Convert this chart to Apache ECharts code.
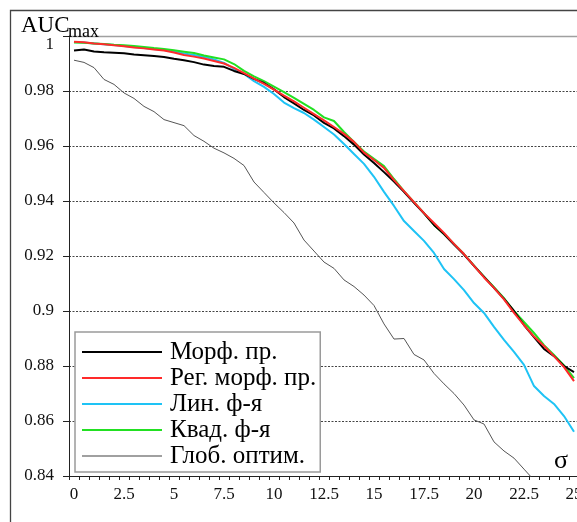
<!DOCTYPE html>
<html>
<head>
<meta charset="utf-8">
<script src="https://cdn.jsdelivr.net/npm/echarts@6/dist/echarts.min.js"></script>
<style>
  html, body { margin: 0; padding: 0; background: #fff; }
  #chart { width: 577px; height: 522px; }
</style>
</head>
<body>
<div id="chart"></div>
<script>
// σ values along the horizontal axis (category axis, step 0.5)
const sigma = ['0','0.5','1','1.5','2','2.5','3','3.5','4','4.5',
  '5','5.5','6','6.5','7','7.5','8','8.5','9','9.5',
  '10','10.5','11','11.5','12','12.5','13','13.5','14','14.5',
  '15','15.5','16','16.5','17','17.5','18','18.5','19','19.5',
  '20','20.5','21','21.5','22','22.5','23','23.5','24','24.5','25'];

// Y axis range and step for AUC_max
const yMin = 0.84;
const yMax = 1;
const yStep = 0.02;

const seriesNames = ['Морф. пр.', 'Рег. морф. пр.', 'Лин. ф-я', 'Квад. ф-я', 'Глоб. оптим.'];

const morph = [0.9947,0.9951,0.9944,0.9941,0.9939,0.9937,0.9933,0.9930,0.9927,0.9924,
  0.9917,0.9912,0.9905,0.9896,0.9891,0.9888,0.9873,0.9862,0.9844,0.9829,
  0.9806,0.9778,0.9755,0.9731,0.9711,0.9684,0.9664,0.9636,0.9605,0.9569,
  0.9538,0.9505,0.9471,0.9433,0.9393,0.9355,0.9313,0.9280,0.9242,0.9205,
  0.9164,0.9124,0.9084,0.9044,0.9000,0.8949,0.8905,0.8862,0.8836,0.8800,0.8778];

const regMorph = [0.9979,0.9977,0.9973,0.9970,0.9966,0.9963,0.9958,0.9955,0.9951,0.9947,
  0.9940,0.9931,0.9925,0.9918,0.9909,0.9900,0.9884,0.9865,0.9845,0.9826,
  0.9805,0.9783,0.9762,0.9739,0.9716,0.9693,0.9669,0.9644,0.9615,0.9576,
  0.9549,0.9520,0.9476,0.9436,0.9396,0.9356,0.9320,0.9284,0.9244,0.9207,
  0.9164,0.9122,0.9084,0.9042,0.8993,0.8949,0.8907,0.8873,0.8836,0.8796,0.8745];

const linear = [0.9978,0.9976,0.9973,0.9970,0.9967,0.9964,0.9960,0.9956,0.9953,0.9949,
  0.9944,0.9936,0.9931,0.9924,0.9915,0.9902,0.9880,0.9862,0.9836,0.9815,
  0.9789,0.9758,0.9738,0.9720,0.9696,0.9669,0.9642,0.9607,0.9571,0.9535,
  0.9488,0.9433,0.9382,0.9327,0.9291,0.9255,0.9211,0.9153,0.9116,0.9076,
  0.9029,0.8993,0.8942,0.8895,0.8851,0.8804,0.8727,0.8691,0.8662,0.8618,0.8561];

const quadratic = [0.9976,0.9975,0.9973,0.9971,0.9968,0.9966,0.9964,0.9960,0.9956,0.9953,
  0.9948,0.9943,0.9938,0.9929,0.9922,0.9915,0.9898,0.9873,0.9853,0.9836,
  0.9816,0.9796,0.9775,0.9753,0.9731,0.9704,0.9691,0.9651,0.9615,0.9580,
  0.9553,0.9527,0.9480,0.9436,0.9396,0.9356,0.9313,0.9280,0.9244,0.9207,
  0.9165,0.9125,0.9087,0.9047,0.9000,0.8960,0.8920,0.8876,0.8840,0.8802,0.8756];

const globalOpt = [0.9912,0.9904,0.9885,0.9842,0.9824,0.9793,0.9773,0.9744,0.9725,0.9696,
  0.9685,0.9674,0.9638,0.9617,0.9592,0.9575,0.9555,0.9529,0.9469,0.9431,
  0.9393,0.9358,0.9320,0.9258,0.9218,0.9178,0.9155,0.9113,0.9089,0.9058,
  0.9020,0.8953,0.8898,0.8900,0.8842,0.8822,0.8773,0.8735,0.8700,0.8658,
  0.8604,0.8589,0.8524,0.8491,0.8465,0.8425,0.8385,null,null,null,null];

const serif = "'Liberation Serif', 'Times New Roman', serif";

const chart = echarts.init(document.getElementById('chart'), null, { renderer: 'canvas' });

// split lines: dashed dark for inner levels, none at the bottom axis and the top (drawn solid separately)
const gridColors = ['rgba(0,0,0,0)', '#444', '#444', '#444', '#444', '#444', '#444', '#444', 'rgba(0,0,0,0)'];

function line(name, data, color, width, z) {
  return {
    name: name,
    type: 'line',
    data: data,
    symbol: 'none',
    smooth: false,
    connectNulls: false,
    z: z,
    lineStyle: { color: color, width: width },
    itemStyle: { color: color }
  };
}

const series = [
  line(seriesNames[4], globalOpt, '#555555', 1, 2),
  line(seriesNames[2], linear, '#1ec3f5', 2, 3),
  line(seriesNames[3], quadratic, '#22e022', 2, 4),
  line(seriesNames[0], morph, '#000000', 2, 5),
  line(seriesNames[1], regMorph, '#ff2a2a', 2, 6)
];
// solid top border line at AUC = 1
series[0].markLine = {
  silent: true,
  symbol: 'none',
  label: { show: false },
  lineStyle: { color: '#a0a0a0', type: 'solid', width: 1.3 },
  data: [{ yAxis: yMax }]
};

chart.setOption({
  animation: false,
  backgroundColor: '#fff',
  grid: { left: 69, width: 510, top: 36, bottom: 46, containLabel: false, outerBoundsMode: 'none' },
  xAxis: {
    type: 'category',
    data: sigma,
    boundaryGap: true,
    axisLine: { lineStyle: { color: '#222', width: 1 } },
    axisTick: { show: true, interval: 0, length: 4, lineStyle: { color: '#222', width: 1 } },
    axisLabel: { interval: 4, margin: 10, color: '#111', fontSize: 17, fontFamily: serif },
    splitLine: { show: false }
  },
  yAxis: {
    type: 'value',
    min: yMin,
    max: yMax,
    interval: yStep,
    axisLine: { show: true, lineStyle: { color: '#222', width: 1 } },
    axisTick: { show: true, length: 6, lineStyle: { color: '#222', width: 1 } },
    axisLabel: {
      margin: 15,
      color: '#111',
      fontSize: 17,
      fontFamily: serif,
      formatter: function (v) {
        return Math.abs(v - 1) < 1e-9 ? '{one|1}' : String(+v.toFixed(2));
      },
      rich: {
        one: { fontSize: 17, fontFamily: serif, color: '#111', padding: [18, 0, 0, 0] }
      }
    },
    splitLine: { show: true, lineStyle: { color: gridColors, type: [2, 1.5], width: 1 } }
  },
  legend: {
    orient: 'vertical',
    left: 75,
    top: 332,
    padding: [7, 4, 3, 7],
    icon: 'rect',
    itemWidth: 80,
    itemHeight: 2,
    itemGap: 0,
    backgroundColor: '#fff',
    borderColor: '#9a9a9a',
    borderWidth: 1.5,
    borderRadius: 0,
    z: 10,
    textStyle: { fontSize: 25, fontFamily: serif, color: '#000', lineHeight: 26, padding: [0, 0, 0, 3] },
    data: [
      { name: seriesNames[0] },
      { name: seriesNames[1] },
      { name: seriesNames[2] },
      { name: seriesNames[3] },
      { name: seriesNames[4], itemStyle: { color: '#a0a0a0' } }
    ]
  },
  graphic: [
    { type: 'rect', z: 100, silent: true,
      shape: { x: 10.5, y: 10.5, width: 700, height: 700 },
      style: { fill: 'none', stroke: '#444', lineWidth: 1.3 } },
    { type: 'text', z: 100, x: 21, y: 26,
      style: { text: 'AUC', font: '23px ' + serif, fill: '#000', textAlign: 'left', textVerticalAlign: 'middle' } },
    { type: 'text', z: 100, x: 68, y: 32,
      style: { text: 'max', font: '18px ' + serif, fill: '#000', textAlign: 'left', textVerticalAlign: 'middle' } },
    { type: 'text', z: 100, x: 561, y: 461,
      style: { text: 'σ', font: '26px ' + serif, fill: '#000', textAlign: 'center', textVerticalAlign: 'middle' } }
  ],
  series: series
});
</script>
</body>
</html>
